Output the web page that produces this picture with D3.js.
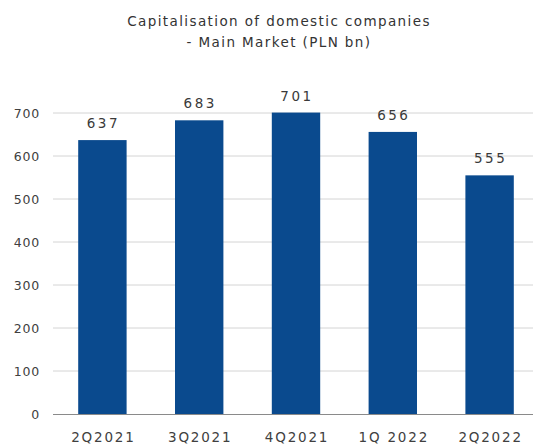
<!DOCTYPE html>
<html>
<head>
<meta charset="utf-8">
<script src="https://cdn.jsdelivr.net/npm/d3@7"></script>
<style>
  html, body { margin: 0; padding: 0; background: #fff; }
  svg { display: block; }
  text { font-family: "DejaVu Sans", Verdana, sans-serif; }
</style>
</head>
<body>
<svg id="chart" width="533" height="447"></svg>
<script>
// Capitalisation of domestic companies, Main Market (PLN bn)
const quarters = ["2Q2021", "3Q2021", "4Q2021", "1Q 2022", "2Q2022"];
const capitalisation = [637, 683, 701, 656, 555];
const yTicks = [0, 100, 200, 300, 400, 500, 600, 700];
const titleLines = ["Capitalisation  of domestic companies", "- Main Market (PLN bn)"];

const svg = d3.select("#chart");
const W = 533, H = 447;
const margin = { left: 54, right: -5, top: 113, bottom: 33 };

const x = d3.scaleBand()
  .domain(quarters)
  .range([margin.left, W - margin.right])
  .paddingInner(0.5)
  .paddingOuter(0.25);

const y = d3.scaleLinear()
  .domain([0, 700])
  .range([H - margin.bottom, margin.top]);

// title
svg.append("g")
  .selectAll("text")
  .data(titleLines)
  .join("text")
  .attr("x", 279)
  .attr("y", (d, i) => 26 + i * 21)
  .attr("text-anchor", "middle")
  .attr("font-size", 13.5)
  .attr("letter-spacing", 1.4)
  .attr("fill", "#333333")
  .text(d => d);

// horizontal gridlines
svg.append("g")
  .selectAll("line")
  .data(yTicks.filter(t => t > 0))
  .join("line")
  .attr("x1", 53)
  .attr("x2", W)
  .attr("y1", d => y(d))
  .attr("y2", d => y(d))
  .attr("stroke", "#d4d4d4")
  .attr("stroke-width", 1);

// y axis labels
const yAxis = d3.axisLeft(y).tickValues(yTicks).tickSize(0).tickPadding(0);
const gy = svg.append("g")
  .attr("transform", "translate(40,0)")
  .call(yAxis);
gy.select(".domain").remove();
gy.selectAll("text")
  .attr("font-size", 12.5)
  .attr("letter-spacing", 0.8)
  .attr("fill", "#404040")
  .attr("font-family", "DejaVu Sans, Verdana, sans-serif");

// bars
svg.append("g")
  .selectAll("rect")
  .data(capitalisation)
  .join("rect")
  .attr("x", (d, i) => x(quarters[i]))
  .attr("width", x.bandwidth())
  .attr("y", d => y(d))
  .attr("height", d => y(0) - y(d))
  .attr("fill", "#0a4a8e");

// value labels
svg.append("g")
  .selectAll("text")
  .data(capitalisation)
  .join("text")
  .attr("x", (d, i) => x(quarters[i]) + x.bandwidth() / 2 + 1)
  .attr("y", d => y(d) - 12)
  .attr("text-anchor", "middle")
  .attr("font-size", 13.5)
  .attr("letter-spacing", 2.5)
  .attr("fill", "#3a3a3a")
  .text(d => d);

// baseline
svg.append("line")
  .attr("x1", 53)
  .attr("x2", W)
  .attr("y1", y(0) + 0.5)
  .attr("y2", y(0) + 0.5)
  .attr("stroke", "#8a8a8a")
  .attr("stroke-width", 1);

// category axis
const xAxis = d3.axisBottom(x).tickSize(0).tickPadding(0);
const gx = svg.append("g")
  .attr("transform", `translate(1,${y(0) + 18})`)
  .call(xAxis);
gx.select(".domain").remove();
gx.selectAll("text")
  .attr("font-size", 13.5)
  .attr("letter-spacing", 1.8)
  .attr("fill", "#404040")
  .attr("font-family", "DejaVu Sans, Verdana, sans-serif");
</script>
</body>
</html>
